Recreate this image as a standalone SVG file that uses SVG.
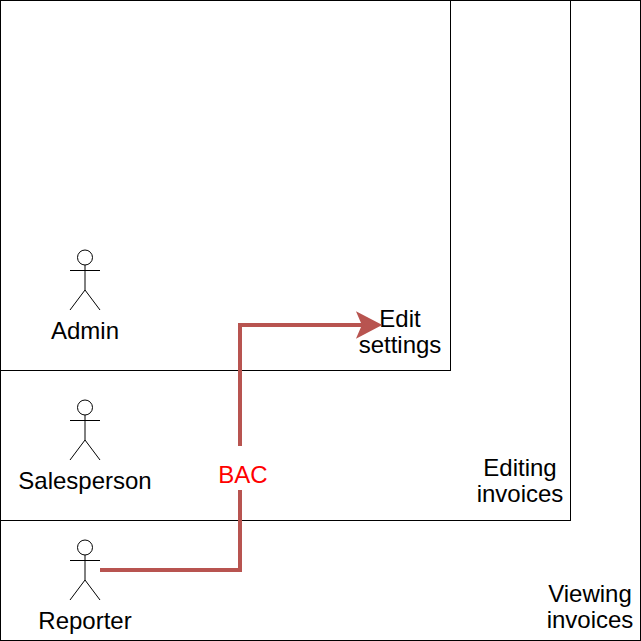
<svg xmlns="http://www.w3.org/2000/svg" width="641" height="641" viewBox="0 0 641 641">
<style>
.box{fill:none;stroke:#000;stroke-width:1}
.lbl{font-family:"Liberation Sans",Arial,Helvetica,sans-serif;font-size:24px;fill:#000;text-anchor:middle}
.actor{fill:none;stroke:#000;stroke-width:1}
.edge{fill:none;stroke:#b85450;stroke-width:4}
</style>
<rect width="641" height="641" fill="#fff"/>
<g id="viewing-invoices">
<rect class="box" x="0.5" y="0.5" width="640" height="640"/>
<text class="lbl" x="590" y="602">Viewing</text>
<text class="lbl" x="590" y="628">invoices</text>
</g>
<g id="editing-invoices">
<rect class="box" x="0.5" y="0.5" width="570" height="520"/>
<text class="lbl" x="520" y="476">Editing</text>
<text class="lbl" x="520" y="502">invoices</text>
</g>
<g id="edit-settings">
<rect class="box" x="0.5" y="0.5" width="450" height="370"/>
<text class="lbl" x="400" y="327">Edit</text>
<text class="lbl" x="400" y="353">settings</text>
</g>
<g id="admin">
<circle class="actor" cx="85" cy="257.5" r="7.5"/>
<path class="actor" d="M85,265V290M70,270.5H100M70,310L85,290L100,310"/>
<text class="lbl" x="85" y="339">Admin</text>
</g>
<g id="salesperson">
<circle class="actor" cx="85" cy="407.5" r="7.5"/>
<path class="actor" d="M85,415V440M70,420.5H100M70,460L85,440L100,460"/>
<text class="lbl" x="85" y="489">Salesperson</text>
</g>
<g id="reporter">
<circle class="actor" cx="85" cy="547.5" r="7.5"/>
<path class="actor" d="M85,555V580M70,560.5H100M70,600L85,580L100,600"/>
<text class="lbl" x="85" y="629">Reporter</text>
</g>
<g id="connectors">
<path class="edge" d="M100,570H240V325H364"/>
<path d="M380,325L358,313.5L363,325L358,336.5Z" fill="#b85450" stroke="#b85450" stroke-width="2"/>
<rect x="228" y="446" width="26" height="44" fill="#fff"/>
<text class="lbl" x="243" y="483" style="fill:#ff0000">BAC</text>
</g>
</svg>
